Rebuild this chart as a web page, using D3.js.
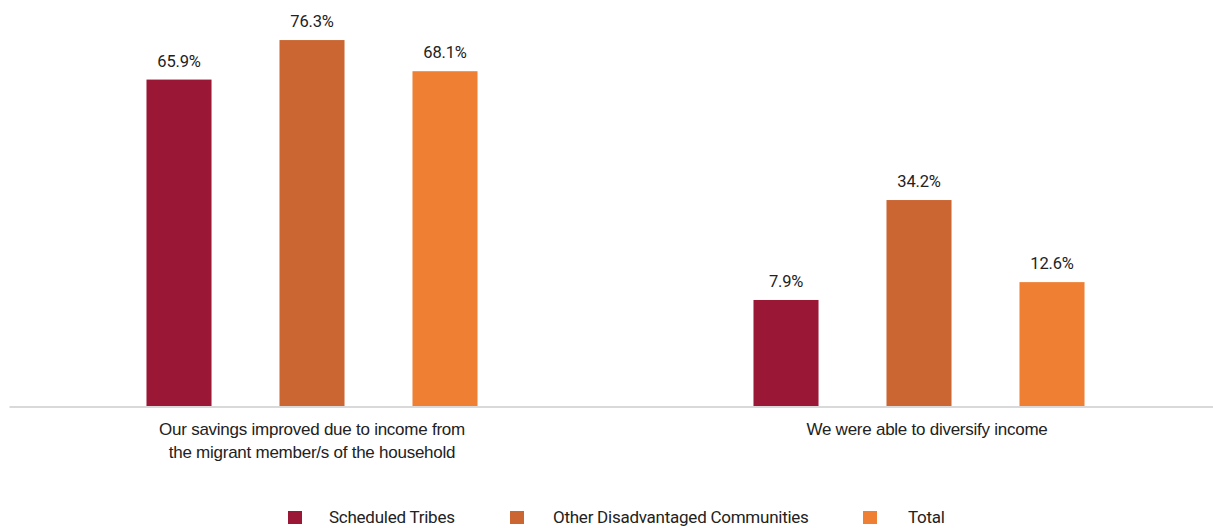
<!DOCTYPE html>
<html>
<head>
<meta charset="utf-8">
<script src="https://cdn.jsdelivr.net/npm/d3@7"></script>
<style>
  html, body { margin: 0; padding: 0; background: #fff; }
  svg { display: block; font-family: Roboto, "Noto Sans", sans-serif; }
</style>
</head>
<body>
<svg id="chart" width="1213" height="528"></svg>
<script>
// Survey responses by community group
const categories = [
  ["Our savings improved due to income from", "the migrant member/s of the household"],
  ["We were able to diversify income"]
];
const seriesNames = ["Scheduled Tribes", "Other Disadvantaged Communities", "Total"];
const scheduledTribes = [65.9, 7.9];
const otherDisadvantaged = [76.3, 34.2];
const total = [68.1, 12.6];
const colors = ["#9b1736", "#cb6632", "#ee7f33"];

const seriesValues = [scheduledTribes, otherDisadvantaged, total];
const width = 1213, height = 528;
const margin = { left: 8.5, right: -9.5, top: 26, bottom: 122 };
// horizontal nudge of each category label from its band centre
const tickLabelShift = [0, 8];

const svg = d3.select("#chart");

const x0 = d3.scaleBand()
  .domain(d3.range(categories.length))
  .range([margin.left, width - margin.right])
  .paddingInner(0)
  .paddingOuter(0);

const x1 = d3.scaleBand()
  .domain(d3.range(seriesNames.length))
  .range([0, x0.bandwidth()])
  .paddingInner(0.511)
  .paddingOuter(1.0375);

const y = d3.scaleLinear()
  .domain([-20, 80])
  .range([height - margin.bottom, margin.top]);

const data = categories.map((c, i) => ({
  i,
  values: seriesValues.map((s, k) => ({ k, v: s[i] }))
}));

const groups = svg.append("g").selectAll("g")
  .data(data)
  .join("g")
  .attr("transform", d => `translate(${x0(d.i)},0)`);

groups.selectAll("rect")
  .data(d => d.values)
  .join("rect")
  .attr("x", d => x1(d.k))
  .attr("width", x1.bandwidth())
  .attr("y", d => y(d.v))
  .attr("height", d => y.range()[0] - y(d.v))
  .attr("fill", d => colors[d.k]);

groups.selectAll("text.val")
  .data(d => d.values)
  .join("text")
  .attr("class", "val")
  .attr("x", d => x1(d.k) + x1.bandwidth() / 2)
  .attr("y", d => y(d.v) - 13)
  .attr("text-anchor", "middle")
  .attr("font-size", 16.5)
  .attr("letter-spacing", -0.2)
  .attr("fill", "#222")
  .text(d => d.v.toFixed(1) + "%");

// category axis along the bar baseline
const xAxis = d3.axisBottom(x0).tickSize(0).tickFormat("");
const axisG = svg.append("g")
  .attr("transform", `translate(0,${y.range()[0]})`)
  .call(xAxis);
axisG.select(".domain")
  .attr("stroke", "#d9d9d9")
  .attr("stroke-width", 2)
  .attr("d", `M${margin.left + 1},1H${width + 10}`);

axisG.selectAll(".tick").each(function(d) {
  const t = d3.select(this).append("text")
    .attr("text-anchor", "middle")
    .attr("font-size", 17)
    .attr("letter-spacing", -0.25)
    .attr("fill", "#222");
  categories[d].forEach((line, j) => {
    t.append("tspan").attr("x", tickLabelShift[d]).attr("y", 29 + j * 23).text(line);
  });
});

// legend
const legendItems = [
  { sq: 288, tx: 329 },
  { sq: 510, tx: 553 },
  { sq: 863, tx: 908 }
];
const legendBaseline = 523;
const legend = svg.append("g").selectAll("g")
  .data(seriesNames)
  .join("g");
legend.append("rect")
  .attr("x", (d, i) => legendItems[i].sq)
  .attr("y", legendBaseline - 12)
  .attr("width", 14)
  .attr("height", 13)
  .attr("fill", (d, i) => colors[i]);
legend.append("text")
  .attr("x", (d, i) => legendItems[i].tx)
  .attr("y", legendBaseline)
  .attr("font-size", 17)
  .attr("letter-spacing", -0.25)
  .attr("fill", "#222")
  .text(d => d);
</script>
</body>
</html>
